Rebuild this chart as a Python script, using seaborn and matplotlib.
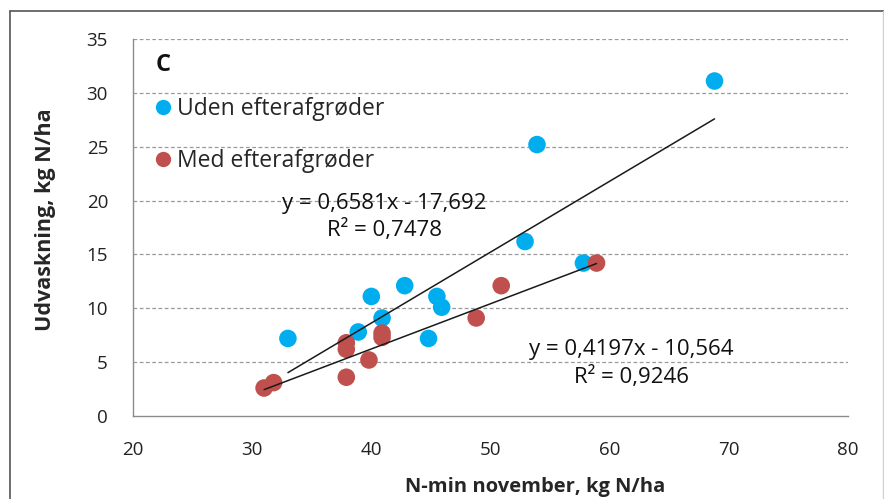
import numpy as np
import pandas as pd
import matplotlib
matplotlib.use("Agg")
import matplotlib.pyplot as plt
import seaborn as sns
from matplotlib.lines import Line2D

# Data
uden_x = [33.0, 40.0, 38.9, 40.9, 42.8, 44.8, 45.5, 45.9, 52.9, 53.9, 57.8, 68.8]
uden_y = [7.2, 11.1, 7.8, 9.1, 12.1, 7.2, 11.1, 10.1, 16.2, 25.2, 14.2, 31.1]
med_x = [31.0, 31.8, 37.9, 37.9, 37.9, 39.8, 40.9, 40.9, 48.8, 50.9, 58.9]
med_y = [2.6, 3.1, 6.8, 6.2, 3.6, 5.2, 7.7, 7.3, 9.1, 12.1, 14.2]

series_names = ["Uden efterafgrøder", "Med efterafgrøder"]
slopes = [0.6581, 0.4197]
intercepts = [-17.692, -10.564]
eq_labels = ["y = 0,6581x - 17,692\nR² = 0,7478", "y = 0,4197x - 10,564\nR² = 0,9246"]
x_ticks = [20, 30, 40, 50, 60, 70, 80]
y_ticks = [0, 5, 10, 15, 20, 25, 30, 35]
panel_letter = "C"
x_label = "N-min november, kg N/ha"
y_label = "Udvaskning, kg N/ha"

colors = ["#00AEEF", "#C0504D"]

df = pd.DataFrame({
    "x": uden_x + med_x,
    "y": uden_y + med_y,
    "serie": [series_names[0]] * len(uden_x) + [series_names[1]] * len(med_x),
})

sns.set_theme(style="white")
plt.rcParams["font.family"] = ["Open Sans", "DejaVu Sans"]

fig = plt.figure(figsize=(8.84, 4.99), dpi=100)
ax = fig.add_axes([133 / 884, 1 - 416 / 499, (848 - 133) / 884, (416 - 39) / 499])

sns.scatterplot(data=df, x="x", y="y", hue="serie", palette=colors,
                hue_order=series_names, s=160, edgecolor="none", ax=ax,
                legend=False, zorder=3)

# trend lines
groups = [(uden_x, slopes[0], intercepts[0]), (med_x, slopes[1], intercepts[1])]
for xs, a, b in groups:
    xr = np.array([min(xs), max(xs)])
    ax.plot(xr, a * xr + b, color="#1a1a1a", lw=1.1, zorder=4)

ax.set_xlim(20, 80)
ax.set_ylim(0, 35)
ax.set_xticks(x_ticks)
ax.set_yticks(y_ticks)
ax.tick_params(axis="both", labelsize=13.5, colors="#222222", length=7,
               width=1, direction="out", pad=11)
ax.tick_params(axis="x", color="#8c8c8c")
ax.tick_params(axis="y", color="#8c8c8c")
for yv in y_ticks[1:]:
    ax.axhline(yv, color="#9a9a9a", lw=0.9, ls=(0, (3, 2)), zorder=1)

for side in ["top", "right"]:
    ax.spines[side].set_visible(False)
for side in ["left", "bottom"]:
    ax.spines[side].set_color("#8c8c8c")
    ax.spines[side].set_linewidth(1)

ax.set_xlabel(x_label, fontsize=14.5, fontweight="bold")
ax.set_ylabel(y_label, fontsize=15.5, fontweight="bold")
ax.xaxis.set_label_coords(0.562, -0.163)
ax.yaxis.set_label_coords(-0.107, 0.52)

# panel letter
ax.text(21.9, 32.6, panel_letter, fontsize=17, fontweight="bold", ha="left", va="center", color="#111111")

# legend
handles = [Line2D([], [], marker="o", ls="none", color=c, markersize=10) for c in colors]
leg = ax.legend(handles, series_names, loc="upper left", bbox_to_anchor=(0.012, 0.87),
                frameon=False, fontsize=16.5, handletextpad=0.05, labelspacing=1.2,
                borderaxespad=0, handlelength=1.1)

# equation labels
ax.text(41.1, 18.5, eq_labels[0], ha="center", va="center", fontsize=16,
        color="#111111", linespacing=1.3)
ax.text(61.8, 4.9, eq_labels[1], ha="center", va="center", fontsize=16,
        color="#111111", linespacing=1.35)

# outer chart-area frame
fig.add_artist(Line2D([10 / 884, 10 / 884], [0, 1 - 11 / 499], transform=fig.transFigure,
                      color="#555555", lw=1.2))
fig.add_artist(Line2D([10 / 884, 1], [1 - 11 / 499, 1 - 11 / 499], transform=fig.transFigure,
                      color="#555555", lw=1.2))
fig.add_artist(Line2D([883 / 884, 883 / 884], [0, 1 - 11 / 499], transform=fig.transFigure,
                      color="#d0d0d0", lw=1))

fig.savefig("out.png", dpi=100)
